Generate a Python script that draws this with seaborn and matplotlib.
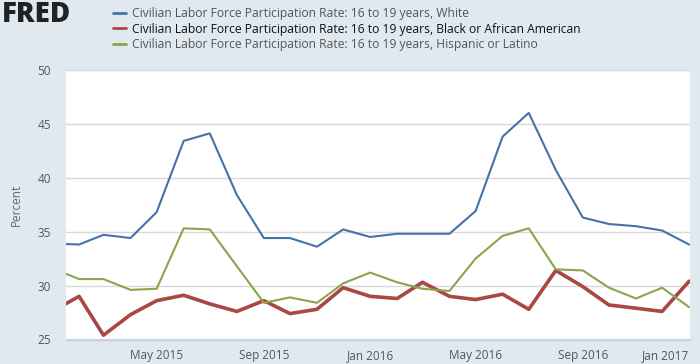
import numpy as np
import pandas as pd
import matplotlib
matplotlib.use("Agg")
import matplotlib.pyplot as plt
import matplotlib.dates as mdates
from matplotlib.lines import Line2D
import seaborn as sns

# Monthly values, Jan 2015 - Jan 2017
months = pd.date_range("2015-01-01", "2017-01-01", freq="MS")

white = [33.9, 33.8, 34.7, 34.4, 36.8, 43.4, 44.1, 38.4, 34.4, 34.4, 33.6, 35.2,
         34.5, 34.8, 34.8, 34.8, 36.9, 43.8, 46.0, 40.7, 36.3, 35.7, 35.5, 35.1, 33.8]
black = [27.6, 29.0, 25.4, 27.3, 28.6, 29.1, 28.3, 27.6, 28.6, 27.4, 27.8, 29.8,
         29.0, 28.8, 30.3, 29.0, 28.7, 29.2, 27.8, 31.4, 29.9, 28.2, 27.9, 27.6, 30.4]
hispanic = [31.6, 30.6, 30.6, 29.6, 29.7, 35.3, 35.2, 31.8, 28.4, 28.9, 28.4, 30.2,
            31.2, 30.3, 29.7, 29.5, 32.5, 34.6, 35.3, 31.5, 31.4, 29.8, 28.8, 29.8, 28.0]

labels = [
    "Civilian Labor Force Participation Rate: 16 to 19 years, White",
    "Civilian Labor Force Participation Rate: 16 to 19 years, Black or African American",
    "Civilian Labor Force Participation Rate: 16 to 19 years, Hispanic or Latino",
]
colors = ["#4572A7", "#AA4643", "#89A54E"]
widths = [1.5, 2.6, 1.5]

sns.set_style("white")
plt.rcParams["font.family"] = ["Open Sans", "DejaVu Sans"]

bg = "#E1E9F0"
fig = plt.figure(figsize=(7, 3.64), dpi=100, facecolor=bg)
ax = fig.add_axes([66 / 700, 1 - 339.5 / 364, 624 / 700, 269.8 / 364])
ax.set_facecolor("white")

df = pd.DataFrame({"date": months, "White": white, "Black": black, "Hispanic": hispanic})
for col, c, w in zip(["White", "Black", "Hispanic"], colors, widths):
    sns.lineplot(data=df, x="date", y=col, color=c, linewidth=w, ax=ax, zorder=3)

ax.set_xlim(pd.Timestamp("2015-01-17"), pd.Timestamp("2017-01-02"))
ax.set_ylim(25, 50)
ax.set_yticks([25, 30, 35, 40, 45, 50])
ax.grid(axis="y", color="#D8D8D8", linewidth=1)
ax.set_axisbelow(True)

tick_dates = pd.date_range("2015-05-01", "2017-01-01", freq="4MS")
ax.set_xticks(tick_dates)
ax.xaxis.set_major_formatter(mdates.DateFormatter("%b %Y"))

for s in ["top", "right", "left"]:
    ax.spines[s].set_visible(False)
ax.spines["bottom"].set_color("#C0D0E0")
ax.spines["bottom"].set_linewidth(1)

ax.tick_params(axis="x", colors="#C0D0E0", length=5, width=1, direction="out",
               labelcolor="#555555", labelsize=8.5, pad=2)
ax.tick_params(axis="y", length=0, labelcolor="#555555", labelsize=8.5, pad=11)
ax.get_xticklabels()[-1].set_horizontalalignment("right")

ax.set_xlabel("")
ax.set_ylabel("Percent", color="#666666", fontsize=8.5, labelpad=10)

fig.text(2 / 700, 1 - 14 / 364, "FRED", fontsize=20, fontweight="heavy",
         color="#222222", va="center", ha="left")

handles = [Line2D([], [], color=c, linewidth=2) for c in colors]
leg = fig.legend(handles, labels, loc="upper left", bbox_to_anchor=(102 / 700, 1.01),
                 frameon=False, fontsize=8.7, handlelength=1.1, handletextpad=0.45,
                 labelspacing=0.2)
for t, tc in zip(leg.get_texts(), ["#555555", "#111111", "#555555"]):
    t.set_color(tc)

fig.savefig("out.png", dpi=100, facecolor=bg)
